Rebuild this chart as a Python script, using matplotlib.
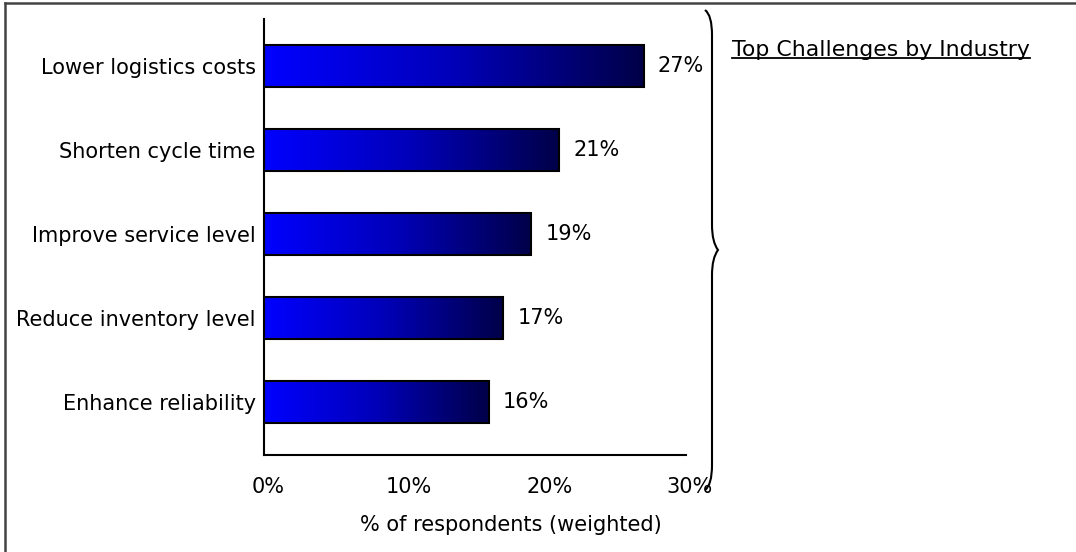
import matplotlib
matplotlib.use("Agg")
import matplotlib.pyplot as plt
import numpy as np
from matplotlib.colors import LinearSegmentedColormap
from matplotlib.path import Path
from matplotlib.patches import PathPatch
from matplotlib.lines import Line2D
import matplotlib.transforms as mtransforms

plt.rcParams['font.family'] = ['DejaVu Sans']

categories = ["Lower logistics costs", "Shorten cycle time", "Improve service level",
              "Reduce inventory level", "Enhance reliability"]
values = [27, 21, 19, 17, 16]
x_ticks = [0, 10, 20, 30]
x_tick_labels = ["0%", "10%", "20%", "30%"]

W, H = 1076, 552
fig = plt.figure(figsize=(W / 100, H / 100), dpi=100)
fig.patch.set_facecolor("white")

# pixel coords (y down) -> figure coords
px = mtransforms.Affine2D().scale(1 / W, -1 / H).translate(0, 1) + fig.transFigure

ax = fig.add_axes([264 / W, 1 - 455 / H, (686 - 264) / W, (455 - 19) / H])

grad = LinearSegmentedColormap.from_list("bar", ["#0000ff", "#0000b8", "#000048"])
g = np.linspace(0, 1, 256).reshape(1, -1)
bar_h = 0.51
y = np.arange(len(categories))
for yi, v in zip(y, values):
    ax.imshow(g, cmap=grad, aspect="auto", extent=(0, v, yi + bar_h / 2, yi - bar_h / 2),
              interpolation="bilinear", zorder=2)
ax.barh(y, values, height=bar_h, facecolor="none", edgecolor="black", linewidth=1.5, zorder=3)

for yi, v in zip(y, values):
    ax.text(v + 1.0, yi, f"{v}%", va="center", ha="left", fontsize=15)

ax.set_xlim(0, 30)
ax.set_ylim(len(categories) - 1 + 0.63, -0.56)
ax.set_yticks(y)
ax.set_yticklabels(categories, fontsize=15)
ax.set_xticks(x_ticks)
ax.set_xticklabels(x_tick_labels, fontsize=15)
ax.tick_params(axis="both", length=0)
ax.tick_params(axis="x", pad=16)
ax.tick_params(axis="y", pad=6)
shift = mtransforms.ScaledTranslation(4 / 100, 0, fig.dpi_scale_trans)
for lbl in ax.get_xticklabels():
    lbl.set_transform(lbl.get_transform() + shift)
for s in ["top", "right"]:
    ax.spines[s].set_visible(False)
for s in ["left", "bottom"]:
    ax.spines[s].set_linewidth(1.5)
    ax.spines[s].set_color("black")

fig.text(511 / W, 1 - 525 / H, "% of respondents (weighted)", ha="center", va="center", fontsize=15)

# title with underline
t = fig.text(732 / W, 1 - 50 / H, "Top Challenges by Industry", ha="left", va="center", fontsize=15.8)
fig.canvas.draw()
bb = t.get_window_extent()
fig.add_artist(Line2D([bb.x0 / W, bb.x1 / W], [(bb.y0 + 2) / H, (bb.y0 + 2) / H],
                      color="black", linewidth=1.3))

# curly brace
verts = [(705, 10), (712, 15), (712, 35),
         (712, 225),
         (712, 242), (718, 250),
         (712, 258), (712, 275),
         (712, 465),
         (712, 485), (705, 490)]
codes = [Path.MOVETO, Path.CURVE3, Path.CURVE3,
         Path.LINETO,
         Path.CURVE3, Path.CURVE3,
         Path.CURVE3, Path.CURVE3,
         Path.LINETO,
         Path.CURVE3, Path.CURVE3]
fig.add_artist(PathPatch(Path(verts, codes), transform=px, facecolor="none",
                         edgecolor="black", linewidth=1.5))

# outer frame (top and left edges)
fig.add_artist(Line2D([5, W], [3, 3], transform=px, color="#444444", linewidth=1.8))
fig.add_artist(Line2D([5, 5], [3, H], transform=px, color="#444444", linewidth=1.8))

fig.savefig("out.png", dpi=100)
